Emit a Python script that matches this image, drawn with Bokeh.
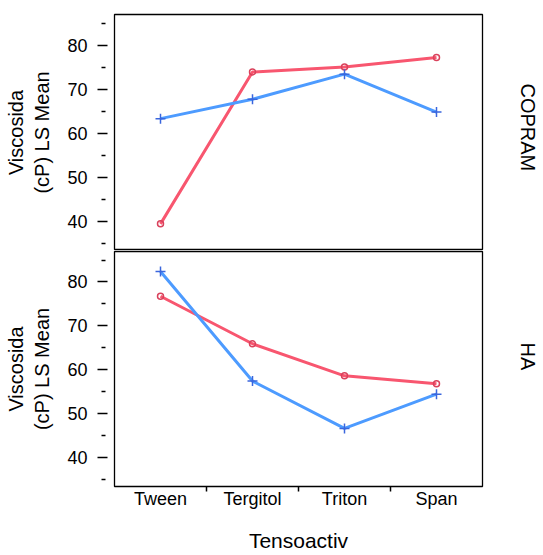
from bokeh.plotting import figure
from bokeh.models import Range1d, FixedTicker, Title, LinearAxis
from bokeh.layouts import column
from bokeh.embed import file_html
from bokeh.resources import INLINE

# ---- data ----
categories = ["Tween", "Tergitol", "Triton", "Span"]
panel_names = ["COPRAM", "HA"]
copram_red = [39.4, 73.9, 75.0, 77.2]
copram_blue = [63.3, 67.7, 73.4, 64.8]
ha_red = [76.75, 65.9, 58.6, 56.8]
ha_blue = [82.4, 57.4, 46.6, 54.4]
y_major = [40, 50, 60, 70, 80]
y_minor = [35, 45, 55, 65, 75, 85]
y_label = "Viscosida\n(cP) LS Mean"
x_label = "Tensoactiv"

FONT = "Liberation Sans"
RED = "#F8566F"
RED_MK = "#D9425C"
BLUE = "#4D9BFF"
BLUE_MK = "#3A66DD"

xs = list(range(1, len(categories) + 1))
x_bounds = [i + 0.5 for i in range(1, len(categories))]
X0, X1 = 0.5, len(categories) + 0.5
Y0, Y1 = 33.35, 86.95


def make_panel(name, red, blue, height, top, bottom, show_x, name_offset):
    p = figure(width=543, height=height, output_backend="svg", toolbar_location=None,
               x_range=Range1d(X0, X1), y_range=Range1d(Y0, Y1),
               x_axis_location="below" if show_x else None,
               min_border_left=114, min_border_right=61,
               min_border_top=top, min_border_bottom=bottom)
    p.background_fill_color = "white"
    p.border_fill_color = "white"
    p.outline_line_color = "black"
    p.outline_line_width = 1.3
    p.grid.visible = False

    ya = p.yaxis[0]
    ya.ticker = FixedTicker(ticks=y_major, minor_ticks=y_minor)
    ya.axis_line_color = None
    ya.major_tick_in = -7
    ya.major_tick_out = 17
    ya.minor_tick_in = -9
    ya.minor_tick_out = 13
    ya.major_tick_line_width = 1.5
    ya.minor_tick_line_width = 1.5
    ya.major_tick_line_color = "black"
    ya.minor_tick_line_color = "black"
    ya.major_label_standoff = 10
    ya.major_label_text_font = FONT
    ya.major_label_text_font_size = "18px"
    ya.major_label_text_color = "black"
    ya.axis_label = y_label
    ya.axis_label_text_font = FONT
    ya.axis_label_text_font_size = "20px"
    ya.axis_label_text_font_style = "normal"
    ya.axis_label_text_color = "black"
    ya.axis_label_standoff = 11

    # invisible spacer axis on the right, then the panel name
    spacer = LinearAxis(ticker=FixedTicker(ticks=y_major[:1]), axis_line_color=None,
                        major_tick_line_color=None, minor_tick_line_color=None,
                        major_label_text_alpha=0, major_label_text_font_size="1px",
                        major_tick_out=34, major_tick_in=0,
                        minor_tick_out=0, minor_tick_in=0, major_label_standoff=0)
    p.add_layout(spacer, "right")
    p.add_layout(Title(text=name, align="left", offset=name_offset, standoff=0,
                       vertical_align="bottom", text_font=FONT, text_font_size="20px",
                       text_font_style="normal", text_color="black"), "right")

    if show_x:
        xa = p.xaxis[0]
        xa.ticker = FixedTicker(ticks=xs, minor_ticks=x_bounds)
        xa.major_label_overrides = {x: c for x, c in zip(xs, categories)}
        xa.axis_line_color = None
        xa.major_tick_line_color = None
        xa.major_tick_out = 0
        xa.major_tick_in = 0
        xa.minor_tick_in = 0
        xa.minor_tick_out = 5
        xa.minor_tick_line_color = "black"
        xa.minor_tick_line_width = 1.5
        xa.major_label_standoff = -3
        xa.major_label_text_font = FONT
        xa.major_label_text_font_size = "18px"
        xa.major_label_text_color = "black"
        xa.axis_label = x_label
        xa.axis_label_text_font = FONT
        xa.axis_label_text_font_size = "21px"
        xa.axis_label_text_font_style = "normal"
        xa.axis_label_text_color = "black"
        xa.axis_label_standoff = 17

    p.line(xs, red, line_color=RED, line_width=3)
    p.line(xs, blue, line_color=BLUE, line_width=3)
    p.scatter(xs, red, marker="circle", size=6, fill_color="white", fill_alpha=0,
              line_color=RED_MK, line_width=1.5)
    p.scatter(xs, blue, marker="cross", size=10, line_color=BLUE_MK, line_width=1.5)
    return p


p1 = make_panel(panel_names[0], copram_red, copram_blue, 250, 14, 0, False, 69)
p2 = make_panel(panel_names[1], ha_red, ha_blue, 305, 1, 69, True, 91)

layout = column(p1, p2, spacing=0)
open("out.html", "w").write(file_html(layout, INLINE))
